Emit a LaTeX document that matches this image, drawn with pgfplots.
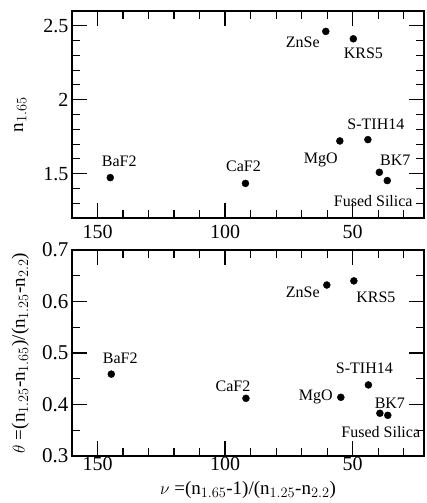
\documentclass[border=0pt]{standalone}
\usepackage{fontspec}
\setmainfont{Liberation Serif}
\usepackage{pgfplots}
\pgfplotsset{compat=1.18}
\usepackage{pgfplotstable}

% x = Abbe-like number, y = index; dx/dy = label offset in pt
\pgfplotstableread{
x y label dx dy
145 1.473 BaF2 9 16
92 1.434 CaF2 -2 17
60.5 2.462 ZnSe -23 -11
49.7 2.412 KRS5 10 -14
55 1.721 MgO -19 -19
44 1.730 S-TIH14 8 15
39.5 1.509 BK7 16 12
36.4 1.453 {Fused Silica} -14 -20
}\toptable

\pgfplotstableread{
x y label dx dy
144.6 0.459 BaF2 9 16
91.8 0.412 CaF2 -13 12
60.1 0.632 ZnSe -24 -7
49.5 0.640 KRS5 22 -16
54.6 0.414 MgO -25 0
43.8 0.438 S-TIH14 -4 17
39.3 0.383 BK7 10 10
36.2 0.379 {Fused Silica} -7 -17
}\bottable

\pgfplotsset{
  optic/.style={
    scale only axis, width=352pt,
    x dir=reverse, xmin=22, xmax=160,
    xtick={50,100,150},
    minor xtick={30,40,60,70,80,90,110,120,130,140},
    axis line style={line width=1.6pt},
    major tick length=15pt, minor tick length=8pt,
    every tick/.style={black, line width=1.1pt},
    tick label style={font=\fontsize{20}{22}\selectfont},
    /pgf/number format/assume math mode=true,
    every axis x label/.style={at={(axis description cs:0.5,-0.165)}, anchor=center,
      font=\fontsize{19}{22}\selectfont},
    every axis y label/.style={at={(axis description cs:-0.147,0.5)}, rotate=90, anchor=center,
      font=\fontsize{19}{22}\selectfont},
  },
  pts/.style={
    only marks, mark=*, mark size=3.5pt, black,
    visualization depends on={\thisrow{dx}\as\dx},
    visualization depends on={\thisrow{dy}\as\dy},
    nodes near coords, point meta=explicit symbolic,
    nodes near coords style={anchor=center, xshift=\dx pt, yshift=\dy pt,
      font=\fontsize{16}{18}\selectfont, black},
  },
}

\begin{document}
\begin{tikzpicture}
% top panel
\begin{axis}[optic,
  at={(0pt,238pt)}, anchor=south west, height=207pt,
  ymin=1.2, ymax=2.6,
  ytick={1.5,2,2.5},
  minor ytick={1.3,1.4,1.6,1.7,1.8,1.9,2.1,2.2,2.3,2.4},
  xticklabel style={yshift=-4pt},
  ylabel={n$_{1.65}$},
]
\addplot[pts] table[x=x, y=y, meta=label] {\toptable};
\end{axis}
% bottom panel
\begin{axis}[optic,
  at={(0pt,0pt)}, anchor=south west, height=206pt,
  ymin=0.3, ymax=0.7,
  ytick={0.3,0.4,0.5,0.6,0.7},
  minor ytick={0.35,0.45,0.55,0.65},
  xticklabel style={yshift=2pt},
  yticklabel style={font=\fontsize{21}{23}\selectfont},
  ylabel={$\theta$ =(n$_{1.25}$-n$_{1.65}$)/(n$_{1.25}$-n$_{2.2}$)},
  xlabel={$\nu$ =(n$_{1.65}$-1)/(n$_{1.25}$-n$_{2.2}$)},
]
\addplot[pts] table[x=x, y=y, meta=label] {\bottable};
\end{axis}
\pgfresetboundingbox
\useasboundingbox (-72pt,-47pt) rectangle (354pt,456pt);
\end{tikzpicture}
\end{document}
